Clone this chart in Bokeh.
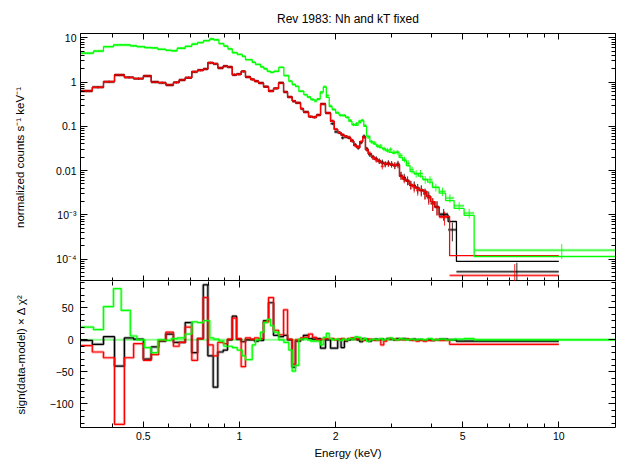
from bokeh.plotting import figure
from bokeh.layouts import column
from bokeh.models import Range1d, FixedTicker, LogAxis, LinearAxis
from bokeh.embed import file_html
from bokeh.resources import INLINE

# ---------------- data ----------------
TITLE = "Rev 1983: Nh and kT fixed"

# MOS-like spectra (black, red): common bin edges in keV
mos_edges = [0.318, 0.346, 0.375, 0.406, 0.436, 0.466, 0.500, 0.529, 0.558, 0.588,
             0.621, 0.647, 0.676, 0.709, 0.739, 0.770, 0.796, 0.827, 0.855, 0.889,
             0.917, 0.949, 0.979, 1.012, 1.044, 1.083, 1.114, 1.147, 1.189, 1.233,
             1.278, 1.325, 1.374, 1.414, 1.462, 1.497, 1.553, 1.586, 1.645, 1.693,
             1.742, 1.794, 1.859, 1.928, 1.98, 2.03, 2.08, 2.13, 2.18, 2.23, 2.28,
             2.33, 2.38, 2.43, 2.48, 2.53, 2.59, 2.65, 2.71, 2.77, 2.83, 2.89, 2.96,
             3.03, 3.10, 3.17, 3.24, 3.32, 3.40, 3.48, 3.57, 3.66, 3.76, 3.86, 3.97,
             4.09, 4.22]
black_tail_edges = [4.50, 4.78, 10.0]
red_tail_edges = [4.55, 10.0]

mos_model = [0.63, 0.76, 1.02, 1.45, 1.27, 1.20, 1.38, 1.00, 0.97, 0.86,
             0.98, 1.12, 1.25, 1.72, 1.85, 1.95, 2.75, 2.60, 2.10, 2.30,
             2.20, 1.45, 1.50, 1.75, 1.30, 1.15, 1.05, 0.95, 0.78, 0.62,
             0.72, 0.95, 0.60, 0.46, 0.38, 0.34, 0.25, 0.21, 0.165, 0.16,
             0.18, 0.32, 0.20,
             0.13, 0.085, 0.072, 0.063, 0.059, 0.055, 0.046, 0.037, 0.033, 0.045,
             0.058, 0.030, 0.024, 0.020, 0.018, 0.0165, 0.015, 0.0145, 0.014, 0.0135,
             0.013, 0.0135, 0.0075, 0.0065, 0.0058, 0.0048, 0.0044, 0.0040, 0.0037, 0.0034,
             0.0026, 0.0020, 0.0015]
black_tail_model = [0.0010, 0.00071, 8.9e-5]
red_tail_model = [0.00092, 1.2e-4]

mos_data_low = [0.63, 0.76, 1.02, 1.44, 1.27, 1.20, 1.37, 1.00, 0.97, 0.86,
                0.98, 1.12, 1.26, 1.71, 1.85, 1.97, 2.74, 2.58, 2.09, 2.29,
                2.20, 1.47, 1.50, 1.74, 1.30, 1.15, 1.05, 0.95, 0.79, 0.63,
                0.72, 0.96, 0.60, 0.46, 0.37, 0.34, 0.25, 0.21, 0.166, 0.16,
                0.18, 0.32, 0.20]
black_data_hi = [0.115, 0.075, 0.072, 0.055, 0.058, 0.055, 0.047, 0.038, 0.033, 0.043,
                 0.060, 0.031, 0.023, 0.020, 0.0185, 0.0163, 0.0155, 0.0140, 0.0148, 0.0140,
                 0.0130, 0.0142, 0.0078, 0.0070, 0.0060, 0.0048, 0.0046, 0.0040, 0.0037, 0.0031,
                 0.0026, 0.0018, 0.0015]
black_tail_data = [0.00105, 0.00046, 5.2e-5]
red_data_hi = [0.133, 0.086, 0.073, 0.065, 0.059, 0.057, 0.048, 0.037, 0.034, 0.045,
               0.057, 0.030, 0.0245, 0.020, 0.0175, 0.0165, 0.0125, 0.0140, 0.0143, 0.0140,
               0.0133, 0.0135, 0.0078, 0.0065, 0.0060, 0.0048, 0.0042, 0.0036, 0.0035, 0.0030,
               0.0024, 0.0018, 0.0015]
red_tail_data = [0.00088, 4.3e-5]

mos_relerr = [0.05, 0.05, 0.05, 0.05, 0.05, 0.05, 0.05, 0.05, 0.05, 0.05,
              0.05, 0.05, 0.05, 0.05, 0.05, 0.05, 0.04, 0.04, 0.04, 0.04,
              0.04, 0.05, 0.05, 0.05, 0.05, 0.05, 0.05, 0.05, 0.05, 0.05,
              0.05, 0.05, 0.05, 0.05, 0.05, 0.05, 0.05, 0.05, 0.05, 0.05,
              0.05, 0.05, 0.05,
              0.06, 0.07, 0.07, 0.08, 0.08, 0.08, 0.09, 0.10, 0.10, 0.09,
              0.09, 0.11, 0.12, 0.13, 0.14, 0.14, 0.15, 0.15, 0.16, 0.16,
              0.17, 0.17, 0.20, 0.21, 0.22, 0.22, 0.24, 0.25, 0.26, 0.27,
              0.30, 0.32, 0.35]
black_tail_relerr = [0.30, 0.45, 0.60]
red_tail_relerr = [0.35, 0.80]

black_resid = [-1, -7, 5, -41, 3, 1, -30, -11, -2, 9, -4, -4, 27, -20, 2, 86, -25, -74,
               -19, -16, 0, 37, 1, -3, 0, 0, -2, -1, 30, 58, 7, 5, 7, 0, -43, -2, 1, 7,
               2, 1, 2, -13, 0,
               -13, -13, 0, -12, -2, 0, 1, 2, 0, -3, 2, 1, -2, 0, 1, 0, 1, 0, 2, 1,
               0, 2, 1, 2, 1, 0, 1, 0, 0, -1, 0, -1, 0,
               1, 0, -2]
red_resid = [-9, -19, -28, -132, -28, -6, -32, -23, -1, 12, -10, -4, 20, -32, 2, 66, -8,
             -25, -4, -6, 1, 34, 2, -42, 3, 1, 3, 2, 28, 66, 15, 8, 47, 1, -38, 0, 3, 4,
             9, 4, 0, 1, 2,
             2, 0, 1, 2, 0, 2, 3, 1, 2, 0, -1, 0, 1, 0, -1, 0, -8, -2, 1, 2,
             1, 0, 1, 0, 1, 0, -1, -2, -1, -2, -1, -1, 0,
             -1, -7]

# pn-like spectrum (green)
green_edges = [0.318, 0.349, 0.375, 0.403, 0.426, 0.455, 0.477, 0.504, 0.529, 0.555,
               0.588, 0.612, 0.638, 0.676, 0.709, 0.739, 0.771, 0.807, 0.831, 0.862,
               0.893, 0.920, 0.949, 0.984, 1.020, 1.044, 1.096, 1.122, 1.164, 1.192,
               1.221, 1.251, 1.281, 1.328, 1.377, 1.427, 1.462, 1.497, 1.534, 1.590,
               1.63, 1.67, 1.71, 1.75, 1.79, 1.83, 1.87, 1.91, 1.95, 2.00, 2.05, 2.10,
               2.15, 2.20, 2.25, 2.30, 2.35, 2.40, 2.45, 2.50, 2.56, 2.62, 2.68, 2.74,
               2.80, 2.87, 2.94, 3.01, 3.08, 3.16, 3.24, 3.33, 3.42, 3.52, 3.63, 3.75,
               3.88, 4.02, 4.22, 4.42, 4.70, 5.05, 5.43, 15.0]
green_model = [4.5, 5.0, 6.3, 6.9, 6.9, 6.6, 6.3, 6.0, 5.9, 5.5,
               5.2, 5.1, 5.8, 6.4, 7.2, 7.8, 8.6, 9.4, 9.0, 7.4,
               6.5, 5.6, 4.6, 4.2, 3.8, 3.2, 2.8, 2.5, 2.2, 2.0,
               1.75, 1.65, 1.75, 2.15, 1.4, 1.05, 0.88, 0.80, 0.62,
               0.52, 0.46, 0.41, 0.39, 0.42, 0.60, 0.77, 0.45, 0.28, 0.24,
               0.20, 0.18, 0.175, 0.16, 0.13, 0.108, 0.105, 0.12, 0.137, 0.10,
               0.06, 0.045, 0.040, 0.036, 0.033, 0.031, 0.028, 0.026, 0.025, 0.026,
               0.020, 0.017, 0.013, 0.0095, 0.0085, 0.0075, 0.0063, 0.0055, 0.0042, 0.0031,
               0.0021, 0.0014, 0.00098, 0.000115]
green_data = [4.5, 5.0, 6.3, 6.9, 6.9, 6.6, 6.3, 6.0, 5.9, 5.5,
              5.2, 5.1, 5.8, 6.4, 7.2, 7.8, 8.6, 9.4, 9.0, 7.4,
              6.5, 5.6, 4.6, 4.2, 3.8, 3.2, 2.8, 2.5, 2.2, 2.0,
              1.75, 1.65, 1.75, 2.15, 1.4, 1.05, 0.88, 0.80, 0.62,
              0.52, 0.46, 0.40, 0.37, 0.41, 0.57, 0.79, 0.50, 0.29, 0.24,
              0.205, 0.178, 0.178, 0.16, 0.135, 0.11, 0.115, 0.13, 0.137, 0.105,
              0.057, 0.045, 0.042, 0.036, 0.036, 0.031, 0.029, 0.030, 0.026, 0.026,
              0.022, 0.018, 0.0146, 0.0105, 0.0086, 0.0086, 0.0063, 0.0062, 0.0042, 0.0034,
              0.0024, 0.0016, 0.0011, 0.00016]
green_relerr = [0.03, 0.03, 0.03, 0.03, 0.03, 0.03, 0.03, 0.03, 0.03, 0.03,
                0.03, 0.03, 0.03, 0.03, 0.03, 0.03, 0.03, 0.03, 0.03, 0.03,
                0.03, 0.03, 0.03, 0.03, 0.03, 0.03, 0.03, 0.03, 0.03, 0.03,
                0.03, 0.03, 0.03, 0.03, 0.03, 0.03, 0.03, 0.03, 0.03,
                0.04, 0.04, 0.05, 0.05, 0.05, 0.04, 0.04, 0.05, 0.06, 0.06,
                0.06, 0.07, 0.07, 0.07, 0.08, 0.08, 0.08, 0.08, 0.07, 0.08,
                0.09, 0.10, 0.10, 0.11, 0.11, 0.12, 0.12, 0.12, 0.12, 0.12,
                0.14, 0.15, 0.17, 0.18, 0.19, 0.20, 0.20, 0.21, 0.20, 0.22,
                0.22, 0.22, 0.25, 0.37]
green_resid = [20, 16, 52, 80, 46, 6, 0, -12, -20, 0, -1, 2, 3, 9, 28, 27, 30, 3, 1, -2,
               -10, -10, -12, -16, -25, -31, -8, 0, 12, 27, 32, 22, 12, 0, -4, -16, -49,
               -40, 1,
               2, 0, -2, -2, -2, -8, 4, 10, 2, 0, 1, -1, 1, 0, 2, 1, 5, 4, 0, 2,
               -2, 0, 1, 0, 2, 0, 1, 3, 1, 0, 2, 1, 0, 1, 0, 1, 0, 2, 0, 1,
               0, 1, 2, 0]

# axis ticks and labels
x_major = [0.5, 1, 2, 5, 10]
x_minor = [0.4, 0.6, 0.7, 0.8, 0.9, 3, 4, 6, 7, 8, 9]
x_labels = {0.5: "0.5", 1: "1", 2: "2", 5: "5", 10: "10"}
y1_major = [1e-4, 1e-3, 0.01, 0.1, 1, 10]
y1_labels = {1e-4: "10\u207b\u2074", 1e-3: "10\u207b\u00b3", 0.01: "0.01", 0.1: "0.1", 1: "1", 10: "10"}
y2_major = [-100, -50, 0, 50]
y2_labels = {-100: "\u2212100", -50: "\u221250", 0: "0", 50: "50"}

# ---------------- assemble ----------------
black_edges = mos_edges + black_tail_edges
red_edges = mos_edges + red_tail_edges
black_model = mos_model + black_tail_model
red_model = mos_model + red_tail_model
black_data = mos_data_low + black_data_hi + black_tail_data
red_data = mos_data_low + red_data_hi + red_tail_data
black_relerr = mos_relerr + black_tail_relerr
red_relerr = mos_relerr + red_tail_relerr

FONT = "Liberation Sans"
BLACK, RED, GREEN = "#000000", "#ff0000", "#00ff00"
XR = (0.3177, 15.05)


def steps(edges, vals):
    xs, ys = [], []
    for i, v in enumerate(vals):
        xs += [edges[i], edges[i + 1]]
        ys += [v, v]
    return xs, ys


def style_axis(ax, labels, major_in, minor_in, size="10.5px"):
    ax.axis_line_color = "black"
    ax.major_tick_line_color = "black"
    ax.minor_tick_line_color = "black"
    ax.major_tick_in = major_in
    ax.major_tick_out = 0
    ax.minor_tick_in = minor_in
    ax.minor_tick_out = 0
    ax.major_label_text_font = FONT
    ax.major_label_text_color = "black"
    ax.major_label_text_font_size = size
    ax.axis_label_text_font = FONT
    ax.axis_label_text_font_style = "normal"
    ax.axis_label_text_color = "black"
    ax.axis_label_text_font_size = "11.5px"
    if not labels:
        ax.major_label_text_font_size = "1px"
        ax.major_label_text_alpha = 0
        ax.major_label_standoff = 0


xt = FixedTicker(ticks=x_major, minor_ticks=x_minor)
y1_minor = [m * 10.0 ** k for k in range(-5, 2) for m in range(2, 10)]
y1t = FixedTicker(ticks=y1_major, minor_ticks=y1_minor)
y2t = FixedTicker(ticks=y2_major, minor_ticks=list(range(-130, 91, 10)))

# top panel
p1 = figure(x_axis_type="log", y_axis_type="log",
            x_range=Range1d(*XR), y_range=Range1d(3.13e-5, 12.5),
            frame_width=535, frame_height=248,
            min_border_left=80, min_border_right=11, min_border_top=33, min_border_bottom=0,
            output_backend="svg", toolbar_location=None)
p1.title.text = TITLE
p1.title.align = "center"
p1.title.text_font = FONT
p1.title.text_font_size = "12px"
p1.title.text_font_style = "normal"
p1.title.text_color = "black"
p1.title.standoff = 16
p1.xgrid.visible = False
p1.ygrid.visible = False
p1.outline_line_color = "black"
p1.outline_line_alpha = 1

for edges, model, data, rel, col in [(black_edges, black_model, black_data, black_relerr, BLACK),
                                      (red_edges, red_model, red_data, red_relerr, RED),
                                      (green_edges, green_model, green_data, green_relerr, GREEN)]:
    lo = edges[:-1]
    hi = edges[1:]
    mid = [(a + b) / 2 for a, b in zip(lo, hi)]
    ylo = [d * (1 - r) for d, r in zip(data, rel)]
    yhi = [d * (1 + r) for d, r in zip(data, rel)]
    p1.segment(lo, data, hi, data, line_color=col, line_width=3, line_alpha=0.3)
    p1.segment(lo, data, hi, data, line_color=col, line_width=1, line_alpha=0.85)
    p1.segment(mid, ylo, mid, yhi, line_color=col, line_width=1, line_alpha=0.85)

for edges, model, col in [(black_edges, black_model, BLACK),
                          (red_edges, red_model, RED),
                          (green_edges, green_model, GREEN)]:
    xs, ys = steps(edges, model)
    p1.line(xs, ys, line_color=col, line_width=1.3)

style_axis(p1.yaxis[0], True, 7, 4)
p1.yaxis[0].ticker = y1t
p1.yaxis[0].major_label_overrides = y1_labels
p1.yaxis[0].axis_label = "normalized counts s\u207b\u00b9 keV\u207b\u00b9"
p1.yaxis[0].major_label_standoff = 4
p1.yaxis[0].axis_label_standoff = 27
style_axis(p1.xaxis[0], False, 6, 4)
p1.xaxis[0].ticker = xt
ax = LogAxis(ticker=xt)
style_axis(ax, False, 6, 4)
p1.add_layout(ax, "above")
ay = LogAxis(ticker=y1t)
style_axis(ay, False, 7, 4)
p1.add_layout(ay, "right")

# bottom panel
p2 = figure(x_axis_type="log", x_range=p1.x_range, y_range=Range1d(-137, 91.2),
            frame_width=535, frame_height=146,
            min_border_left=80, min_border_right=11, min_border_top=0, min_border_bottom=31,
            output_backend="svg", toolbar_location=None)
p2.xgrid.visible = False
p2.ygrid.visible = False
p2.outline_line_color = None

p2.line(list(XR), [0, 0], line_color=GREEN, line_width=2, line_alpha=0.45)
for edges, res, col in [(black_edges, black_resid, BLACK),
                        (red_edges, red_resid, RED),
                        (green_edges, green_resid, GREEN)]:
    xs, ys = steps(edges, res)
    p2.line(xs, ys, line_color=col, line_width=3, line_alpha=0.3)
    p2.line(xs, ys, line_color=col, line_width=1.2)

style_axis(p2.xaxis[0], True, 6, 4)
p2.xaxis[0].ticker = xt
p2.xaxis[0].major_label_overrides = x_labels
p2.xaxis[0].axis_label = "Energy (keV)"
p2.xaxis[0].major_label_standoff = 4
p2.xaxis[0].axis_label_standoff = 4
style_axis(p2.yaxis[0], True, 7, 4)
p2.yaxis[0].ticker = y2t
p2.yaxis[0].major_label_overrides = y2_labels
p2.yaxis[0].axis_label = "sign(data-model) \u00d7 \u0394 \u03c7\u00b2"
p2.yaxis[0].major_label_standoff = 7
p2.yaxis[0].axis_label_standoff = 20
ax2 = LogAxis(ticker=xt)
style_axis(ax2, False, 6, 4)
ax2.axis_line_color = None
p2.add_layout(ax2, "above")
ay2 = LinearAxis(ticker=y2t)
style_axis(ay2, False, 7, 4)
p2.add_layout(ay2, "right")

layout = column(p1, p2, spacing=0)
open("out.html", "w").write(file_html(layout, INLINE))
